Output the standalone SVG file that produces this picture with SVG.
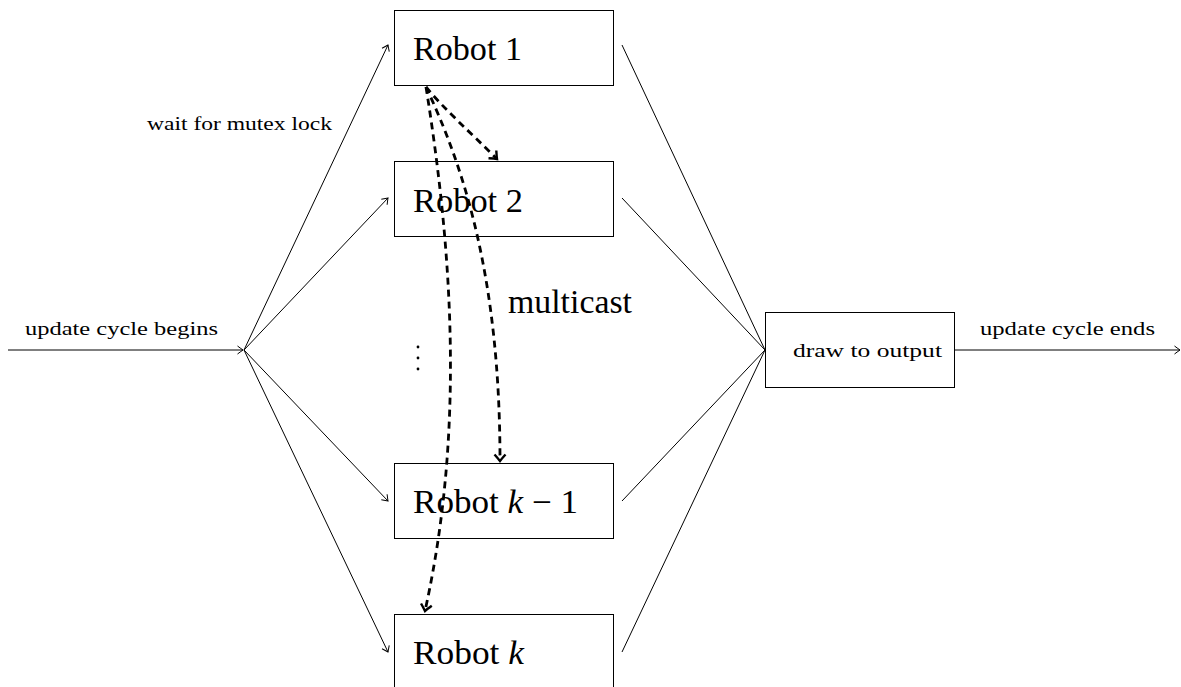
<svg xmlns="http://www.w3.org/2000/svg" width="1181" height="687" viewBox="0 0 1181 687">
<style>
.box{fill:#fff;stroke:#000;stroke-width:1}
.big{font-family:"Liberation Serif","Times New Roman",serif;font-size:33px;fill:#000}
.small{font-family:"Liberation Serif","Times New Roman",serif;font-size:18px;fill:#000}
.thin{fill:none;stroke:#000;stroke-width:1}
.dash{fill:none;stroke:#000;stroke-width:2.8;stroke-dasharray:7 5}
</style>
<defs>
<marker id="to" markerUnits="userSpaceOnUse" markerWidth="12" markerHeight="12" viewBox="-8 -6 10 12" refX="0" refY="0" orient="auto">
<path d="M -5.5 -4 Q -1.5 -1 0 0 Q -1.5 1 -5.5 4" fill="none" stroke="#000" stroke-width="1"/>
</marker>
<marker id="dh" markerUnits="userSpaceOnUse" markerWidth="16" markerHeight="16" viewBox="-10 -8 12 16" refX="0" refY="0" orient="auto">
<path d="M -6.5 -5.5 Q -2 -1.5 0 0 Q -2 1.5 -6.5 5.5" fill="none" stroke="#000" stroke-width="2.4"/>
</marker>
</defs>
<rect width="1181" height="687" fill="#fff"/>
<g id="robot1">
<rect class="box" x="394.5" y="10.5" width="219" height="75"/>
<text class="big" x="413" y="60" textLength="109" lengthAdjust="spacingAndGlyphs">Robot 1</text>
</g>
<g id="robot2">
<rect class="box" x="394.5" y="161.5" width="219" height="75"/>
<text class="big" x="413" y="212" textLength="110" lengthAdjust="spacingAndGlyphs">Robot 2</text>
</g>
<g id="robotk1">
<rect class="box" x="394.5" y="463.5" width="219" height="75"/>
<text class="big" x="413" y="513" textLength="165" lengthAdjust="spacingAndGlyphs">Robot <tspan font-style="italic">k</tspan> − 1</text>
</g>
<g id="robotk">
<rect class="box" x="394.5" y="614.5" width="219" height="75"/>
<text class="big" x="413" y="664" textLength="111" lengthAdjust="spacingAndGlyphs">Robot <tspan font-style="italic">k</tspan></text>
</g>
<g id="output">
<rect class="box" x="765.5" y="312.5" width="189" height="75"/>
<text class="small" x="793" y="357" textLength="149" lengthAdjust="spacingAndGlyphs">draw to output</text>
</g>
<g id="labels">
<text class="small" x="25" y="335" textLength="193" lengthAdjust="spacingAndGlyphs">update cycle begins</text>
<text class="small" x="980" y="335" textLength="175" lengthAdjust="spacingAndGlyphs">update cycle ends</text>
<text class="small" x="147" y="130" textLength="185" lengthAdjust="spacingAndGlyphs">wait for mutex lock</text>
<text class="big" x="508" y="313" font-size="29" textLength="124" lengthAdjust="spacingAndGlyphs">multicast</text>
<circle cx="418" cy="347" r="1.4"/>
<circle cx="418" cy="358" r="1.4"/>
<circle cx="418" cy="369" r="1.4"/>
</g>
<g id="connectors">
<line class="thin" x1="8" y1="350" x2="243" y2="350" marker-end="url(#to)"/>
<line class="thin" x1="244" y1="350" x2="388" y2="45" marker-end="url(#to)"/>
<line class="thin" x1="244" y1="350" x2="388" y2="198" marker-end="url(#to)"/>
<line class="thin" x1="244" y1="350" x2="388" y2="501" marker-end="url(#to)"/>
<line class="thin" x1="244" y1="350" x2="388" y2="652" marker-end="url(#to)"/>
<line class="thin" x1="622" y1="45" x2="765" y2="350"/>
<line class="thin" x1="622" y1="198" x2="765" y2="350"/>
<line class="thin" x1="622" y1="501" x2="765" y2="350"/>
<line class="thin" x1="622" y1="652" x2="765" y2="350"/>
<line class="thin" x1="954" y1="350" x2="1180" y2="350" marker-end="url(#to)"/>
<path class="dash" d="M 426 87 C 445 110, 470 132, 497 159" marker-end="url(#dh)"/>
<path class="dash" d="M 426 87 C 465 170, 500 280, 500 461" marker-end="url(#dh)"/>
<path class="dash" d="M 426 87 C 452 250, 465 430, 425 611" marker-end="url(#dh)"/>
</g>
</svg>
